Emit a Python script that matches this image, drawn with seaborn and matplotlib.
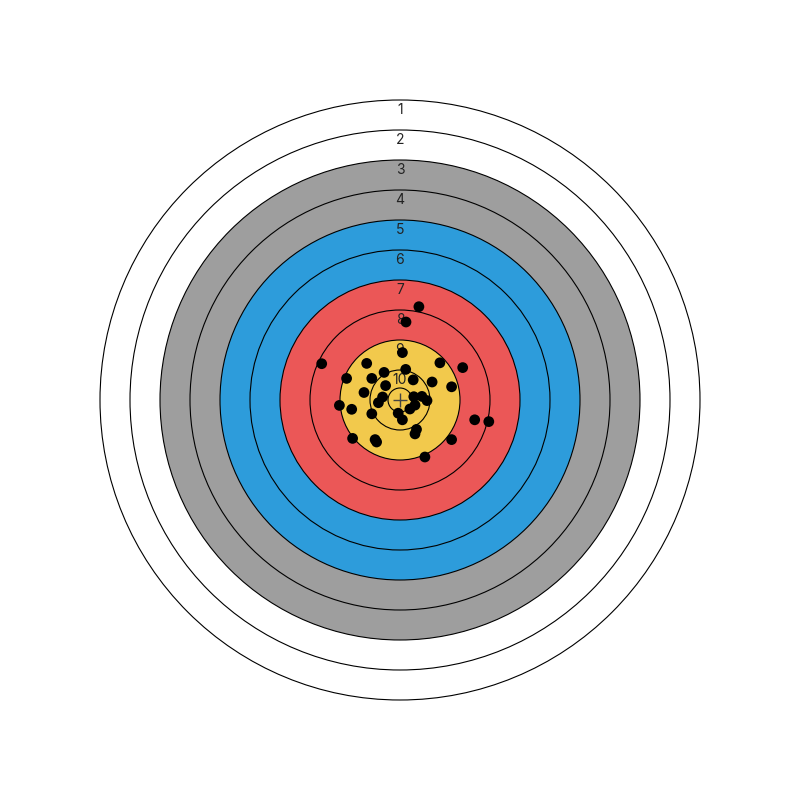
#!/usr/bin/env python3
"""Draws an archery target face with the arrow hits as a seaborn scatter."""

import matplotlib
matplotlib.use("Agg")
import matplotlib.pyplot as plt
import pandas as pd
import seaborn as sns
from matplotlib.patches import Circle

OUTPUT = "out.png"

# Ring scores, outer ring first; ring radius in target units (1 per ring)
scores = [1, 2, 3, 4, 5, 6, 7, 8, 9, 10]
radii = [10, 9, 8, 7, 6, 5, 4, 3, 2, 1]
ring_colors = ["#ffffff", "#ffffff", "#9e9e9e", "#9e9e9e", "#2d9cdb",
               "#2d9cdb", "#eb5757", "#eb5757", "#f2c94c", "#f2c94c"]
inner_radius = 0.4

# Arrow hits (units of ring width, centre = 0)
hit_x = [0.63, 0.20, -2.61, 0.08, -1.11, 1.33, 2.09, -0.53, 0.19, -1.78,
         -0.94, 0.44, 1.07, 1.72, -0.48, -1.20, -0.58, -0.72, 0.46, 0.73,
         0.90, 0.50, 0.33, -2.02, -1.61, -0.94, -0.06, 0.08, 0.55, 0.50,
         2.49, 2.96, -1.58, -0.83, -0.78, 1.72, 0.83]
hit_y = [3.11, 2.60, 1.21, 1.58, 1.22, 1.24, 1.08, 0.92, 1.02, 0.72,
         0.72, 0.67, 0.60, 0.44, 0.48, 0.25, 0.10, -0.09, 0.11, 0.12,
         -0.02, -0.17, -0.30, -0.18, -0.31, -0.46, -0.44, -0.66, -0.98, -1.13,
         -0.66, -0.72, -1.28, -1.32, -1.40, -1.32, -1.90]

sns.set_theme(style="white")
plt.rcParams["font.family"] = ["Inter", "DejaVu Sans"]


def draw_target(ax):
    """Concentric rings with their score written at the top."""
    for score, r, col in zip(scores, radii, ring_colors):
        ax.add_patch(Circle((0, 0), r, facecolor=col, edgecolor="black",
                            linewidth=0.8, zorder=1))
        ax.text(0, r - 0.33, str(score), ha="center", va="center",
                fontsize=10, color="#222222", zorder=2)
    ax.add_patch(Circle((0, 0), inner_radius, facecolor=ring_colors[-1],
                        edgecolor="black", linewidth=0.8, zorder=1))
    ax.plot(0, 0, marker="+", markersize=10, color="#444444",
            markeredgewidth=1.0, zorder=2)


def main():
    hits = pd.DataFrame({"x": hit_x, "y": hit_y})

    fig = plt.figure(figsize=(8, 8), dpi=100)
    ax = fig.add_axes([0, 0, 1, 1])
    draw_target(ax)
    sns.scatterplot(data=hits, x="x", y="y", color="black", s=60,
                    edgecolor="none", ax=ax, zorder=3)

    # Aesthetics
    lim = 400 / 30
    ax.set_xlim(-lim, lim)
    ax.set_ylim(-lim, lim)
    ax.set_aspect("equal")
    ax.axis("off")

    fig.savefig(OUTPUT, dpi=100, facecolor="white")
    plt.close(fig)


if __name__ == "__main__":
    main()
